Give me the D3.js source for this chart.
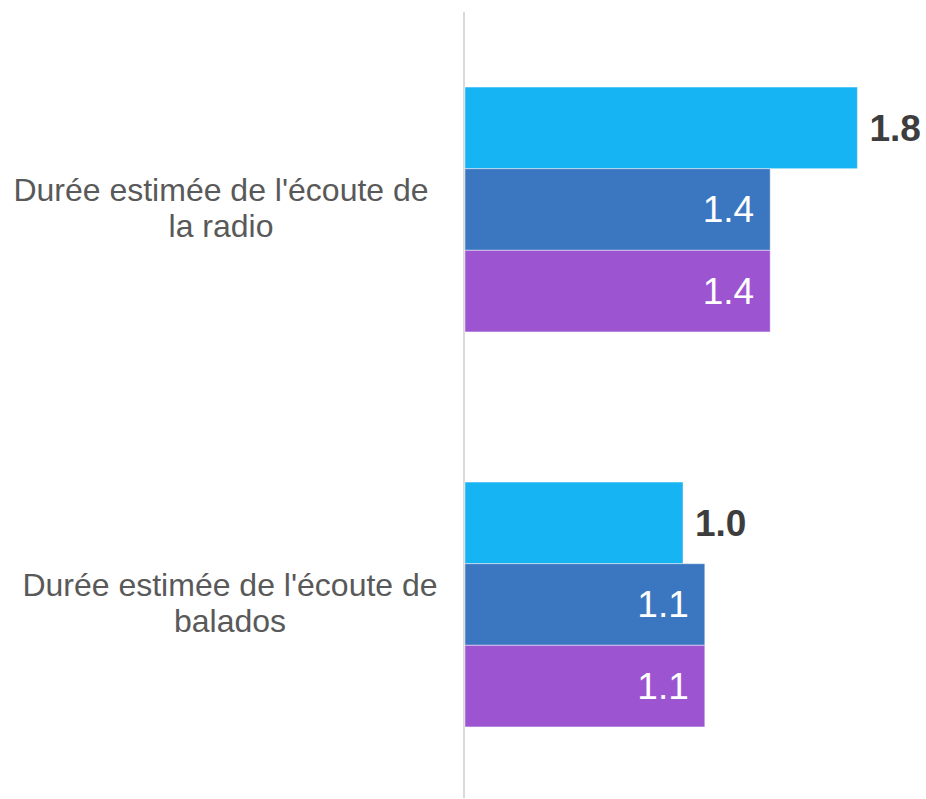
<!DOCTYPE html>
<html>
<head>
<meta charset="utf-8">
<script src="https://cdn.jsdelivr.net/npm/d3@7"></script>
<style>
  html, body { margin: 0; padding: 0; background: #ffffff; }
  svg { display: block; font-family: "Liberation Sans", Arial, sans-serif; }
</style>
</head>
<body>
<svg id="chart" width="926" height="799"></svg>
<script>
// Categories (each label split into its wrapped lines)
const categories = ["radio", "balados"];
const categoryLines = [
  ["Durée estimée de l'écoute de", "la radio"],
  ["Durée estimée de l'écoute de", "balados"]
];
// Three series, one bar each per category
const seriesKeys = ["s1", "s2", "s3"];
const seriesColors = ["#17b4f4", "#3b77c0", "#9c54d1"];
const valuesS1 = [1.8, 1.0];
const valuesS2 = [1.4, 1.1];
const valuesS3 = [1.4, 1.1];
const valueLabels = [["1.8", "1.4", "1.4"], ["1.0", "1.1", "1.1"]];

const seriesValues = [valuesS1, valuesS2, valuesS3];
const rows = categories.map((c, i) => ({
  cat: c,
  bars: seriesKeys.map((k, j) => ({ key: k, value: seriesValues[j][i], label: valueLabels[i][j], idx: j }))
}));

const svg = d3.select("#chart");
const x0 = 465;

const x = d3.scaleLinear().domain([0, 1]).range([x0, x0 + 218]);
const y = d3.scaleBand().domain(categories).range([12, 802]).paddingInner(0.38).paddingOuter(0.19);
const yInner = d3.scaleBand().domain(seriesKeys).range([0, y.bandwidth()]);

// Vertical baseline axis
svg.append("line")
  .attr("x1", x0 - 1).attr("x2", x0 - 1)
  .attr("y1", 12).attr("y2", 798)
  .attr("stroke", "#d9d9d9").attr("stroke-width", 2);

const groups = svg.selectAll("g.cat").data(rows).join("g")
  .attr("class", "cat")
  .attr("transform", d => `translate(0,${y(d.cat)})`);

groups.selectAll("rect").data(d => d.bars).join("rect")
  .attr("x", x(0))
  .attr("y", d => yInner(d.key))
  .attr("width", d => x(d.value) - x(0))
  .attr("height", yInner.bandwidth())
  .attr("fill", (d, i) => seriesColors[d.idx])
  .attr("stroke", "rgba(255,255,255,0.45)")
  .attr("stroke-width", 1);

// Value labels: first series outside in bold, others inside in white
groups.selectAll("text.val").data(d => d.bars).join("text")
  .attr("class", "val")
  .attr("x", d => d.idx === 0 ? x(d.value) + 12 : x(d.value) - 16)
  .attr("y", d => yInner(d.key) + yInner.bandwidth() / 2 + 13)
  .attr("text-anchor", d => d.idx === 0 ? "start" : "end")
  .attr("font-size", 37)
  .attr("font-weight", d => d.idx === 0 ? "bold" : "normal")
  .attr("fill", d => d.idx === 0 ? "#3d3d3d" : "#ffffff")
  .text(d => d.label);

// Category labels, centred and wrapped on two lines
const labelCenterX = [221, 230];
svg.selectAll("text.cat").data(rows).join("text")
  .attr("class", "cat")
  .attr("text-anchor", "middle")
  .attr("font-size", 32)
  .attr("fill", "#595959")
  .each(function (d, i) {
    const t = d3.select(this);
    const cy = y(d.cat) + y.bandwidth() / 2;
    categoryLines[i].forEach((line, k) => {
      t.append("tspan")
        .attr("x", labelCenterX[i])
        .attr("y", cy - 9 + k * 36)
        .text(line);
    });
  });
</script>
</body>
</html>
